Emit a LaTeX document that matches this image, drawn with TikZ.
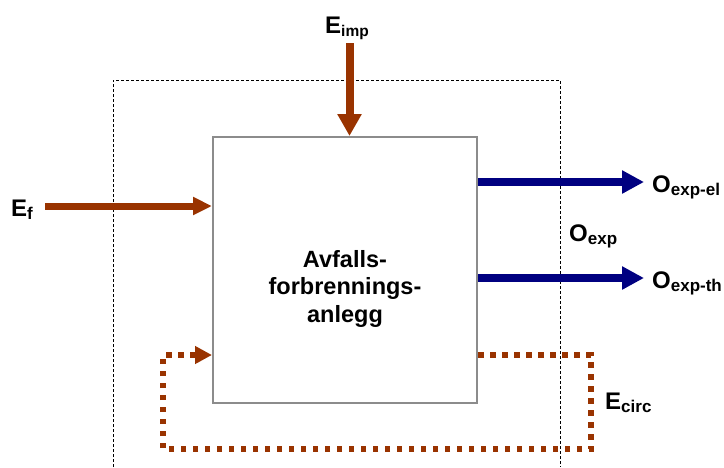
\documentclass[tikz,border=0pt]{standalone}
\usepackage{fontspec}
\setmainfont{Liberation Sans}
\usetikzlibrary{arrows.meta}
\definecolor{brn}{HTML}{993300}
\definecolor{nvy}{HTML}{000080}
\definecolor{boxgray}{HTML}{8C8C8C}
\newcommand\subx[2][17]{\raisebox{-3pt}{\fontsize{#1}{#1}\selectfont #2}}
\tikzset{
  lbl/.style={inner sep=0pt, anchor=base west, font=\fontsize{24}{24}\selectfont\bfseries},
  sysbound/.style={draw=black, line width=0.8pt, dash pattern=on 3pt off 2pt},
  plantbox/.style={draw=boxgray, line width=2pt, fill=white, inner sep=0pt, minimum width=264pt, minimum height=266pt},
  plantname/.style={inner sep=0pt, align=center, font=\fontsize{23.5}{27.5}\selectfont\bfseries},
  brnarrow/.style={draw=brn, line width=8pt, -{Triangle[length=22pt,width=23pt,fill=brn]}},
  brnsmall/.style={draw=brn, line width=7pt, -{Triangle[length=19pt,width=17pt,fill=brn]}},
  bluearrow/.style={draw=nvy, line width=8.5pt, -{Triangle[length=22pt,width=22pt,fill=nvy]}},
  circloop/.style={draw=brn, line width=5.5pt, dash pattern=on 5.5pt off 6.5pt, line join=miter, -{Triangle[length=17pt,width=17pt,fill=brn]}}
}
\begin{document}
\begin{tikzpicture}[x=1pt,y=-1pt]
\useasboundingbox (0,0) rectangle (724,467);
% system boundary
\coordinate (sb1) at (113,467);
\coordinate (sb2) at (113,80);
\coordinate (sb3) at (560,80);
\coordinate (sb4) at (560,467);
\draw[sysbound] (sb1) -- (sb2) -- (sb3) -- (sb4);
% plant
\node[plantbox] (plant) at (345,270) {};
\node[plantname] (name) at (345,288.5) {Avfalls-\\forbrennings-\\anlegg};
% labels
\node[lbl] (eimp) at (325,33) {E\subx[15.5]{imp}};
\node[lbl] (ef) at (11,216) {E\subx{f}};
\node[lbl] (oel) at (652,192) {O\subx{exp-el}};
\node[lbl] (oexp) at (569,241) {O\subx{exp}};
\node[lbl] (oth) at (652,288) {O\subx{exp-th}};
\node[lbl] (ecirc) at (605,409) {E\subx{circ}};
% arrows
\coordinate (eimpS) at (349.5,43);
\draw[brnarrow] (eimpS) -- (eimpS |- plant.north);
\coordinate (efS) at (45,206);
\draw[brnsmall] (efS) -- (efS -| plant.west);
\coordinate (elE) at (644,182);
\draw[bluearrow] (elE -| plant.east) -- (elE);
\coordinate (thE) at (644,278);
\draw[bluearrow] (thE -| plant.east) -- (thE);
% circulation loop
\coordinate (c1) at (591,355);
\coordinate (c2) at (591,449);
\coordinate (c3) at (163,449);
\coordinate (c4) at (163,355);
\draw[circloop] (c1 -| plant.east) -- (c1) -- (c2) -- (c3) -- (c4) -- (c4 -| plant.west);
\end{tikzpicture}
\end{document}
